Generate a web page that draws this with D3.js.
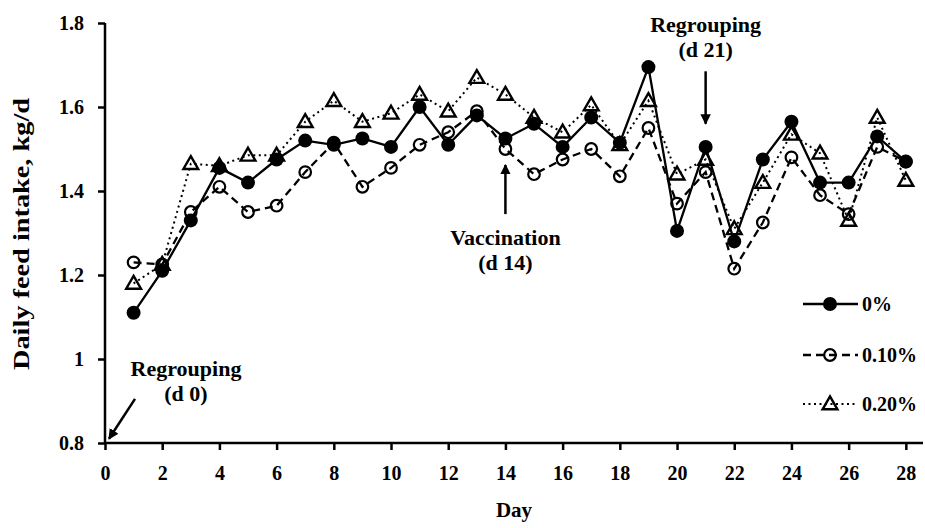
<!DOCTYPE html>
<html>
<head>
<meta charset="utf-8">
<script src="https://cdn.jsdelivr.net/npm/d3@7"></script>
<style>
  html, body { margin: 0; padding: 0; background: #fff; }
  svg { display: block; }
  text { font-family: "Liberation Serif", "Times New Roman", serif; font-weight: bold; fill: #000; }
</style>
</head>
<body>
<svg id="chart" width="925" height="528"></svg>
<script>
// ---- data ----
const days = [1,2,3,4,5,6,7,8,9,10,11,12,13,14,15,16,17,18,19,20,21,22,23,24,25,26,27,28];
const intake0 = [1.11,1.21,1.33,1.455,1.42,1.475,1.52,1.51,1.525,1.505,1.60,1.51,1.58,1.525,1.56,1.505,1.575,1.515,1.695,1.305,1.505,1.28,1.475,1.565,1.42,1.42,1.53,1.47];
const intake10 = [1.23,1.225,1.35,1.41,1.35,1.365,1.445,1.515,1.41,1.455,1.51,1.54,1.59,1.50,1.44,1.475,1.50,1.435,1.55,1.37,1.445,1.215,1.325,1.48,1.39,1.345,1.505,1.47];
const intake20 = [1.18,1.225,1.465,1.46,1.485,1.485,1.565,1.615,1.565,1.585,1.63,1.59,1.67,1.63,1.575,1.54,1.605,1.51,1.615,1.44,1.475,1.31,1.42,1.535,1.49,1.33,1.575,1.425];
const seriesNames = ["0%", "0.10%", "0.20%"];
const xTicks = [0,2,4,6,8,10,12,14,16,18,20,22,24,26,28];
const yTicks = [0.8,1.0,1.2,1.4,1.6,1.8];
const yTickLabels = ["0.8","1","1.2","1.4","1.6","1.8"];
const xTitle = "Day";
const yTitle = "Daily feed intake, kg/d";
// annotations
const annoLines1 = ["Regrouping", "Vaccination", "Regrouping"];
const annoLines2 = ["(d 0)", "(d 14)", "(d 21)"];
const annoDays = [0, 14, 21];

// ---- layout ----
const svg = d3.select("#chart");
const pL = 105, pR = 923, pT = 23, pB = 443;
const x = d3.scaleLinear().domain([0, 28.6]).range([pL, pR]);
const y = d3.scaleLinear().domain([0.8, 1.8]).range([pB, pT]);

// arrowhead
svg.append("defs").append("marker")
  .attr("id", "arr").attr("viewBox", "0 0 10 10").attr("refX", 9).attr("refY", 5)
  .attr("markerWidth", 4.2).attr("markerHeight", 4.2).attr("markerUnits", "strokeWidth")
  .attr("orient", "auto")
  .append("path").attr("d", "M0,0 L10,5 L0,10 z").attr("fill", "#000");

// axes
const yAxis = d3.axisLeft(y).tickValues(yTicks).tickFormat((d, i) => yTickLabels[i]).tickSize(7).tickPadding(14);
const gy = svg.append("g").attr("transform", `translate(${pL},0)`).call(yAxis);
const xAxis = d3.axisBottom(x).tickValues(xTicks).tickFormat(d3.format("d")).tickSize(7).tickPadding(16);
const gx = svg.append("g").attr("transform", `translate(0,${pB})`).call(xAxis);
[gx, gy].forEach(g => {
  g.select(".domain").attr("stroke", "#000").attr("stroke-width", 2.5);
  g.selectAll(".tick line").attr("stroke", "#000").attr("stroke-width", 2.5);
  g.selectAll(".tick text").attr("font-size", 20).style("font-family", "'Liberation Serif', serif").style("font-weight", "bold");
});
gx.select(".domain").attr("d", `M${pL},0H${pR}`);
gy.select(".domain").attr("d", `M0,${pB}V${pT}`);

// titles
svg.append("text").attr("x", 514).attr("y", 517).attr("text-anchor", "middle")
  .attr("font-size", 21).text(xTitle);
svg.append("text").attr("transform", `translate(29,${(pT + pB) / 2 + 1}) rotate(-90)`)
  .attr("text-anchor", "middle").attr("font-size", 23)
  .attr("textLength", 272).attr("lengthAdjust", "spacingAndGlyphs").text(yTitle);

// series
const series = [
  { name: seriesNames[0], vals: intake0, dash: null, marker: "fcircle" },
  { name: seriesNames[1], vals: intake10, dash: "8,5", marker: "ocircle" },
  { name: seriesNames[2], vals: intake20, dash: "2,3.5", marker: "tri" }
];
const line = d3.line().x((d, i) => x(days[i])).y(d => y(d));
const triPath = d3.symbol().type(d3.symbolTriangle).size(95)();

function drawMarker(g, type) {
  if (type === "fcircle") g.append("circle").attr("r", 7).attr("fill", "#000");
  else if (type === "ocircle") g.append("circle").attr("r", 5.8).attr("fill", "none").attr("stroke", "#000").attr("stroke-width", 2.2);
  else g.append("path").attr("d", triPath).attr("transform", "translate(0,1)").attr("fill", "none").attr("stroke", "#000").attr("stroke-width", 2.4).attr("stroke-linejoin", "miter");
}

series.forEach(s => {
  svg.append("path").datum(s.vals).attr("d", line)
    .attr("fill", "none").attr("stroke", "#000").attr("stroke-width", s.marker === "tri" ? 2 : 2.3)
    .attr("stroke-dasharray", s.dash);
  svg.append("g").selectAll("g").data(s.vals).join("g")
    .attr("transform", (d, i) => `translate(${x(days[i])},${y(d)})`)
    .each(function() { drawMarker(d3.select(this), s.marker); });
});

// legend
const legY = [304, 355, 404];
series.forEach((s, i) => {
  const g = svg.append("g").attr("transform", `translate(0,${legY[i]})`);
  g.append("line").attr("x1", 803).attr("x2", 858).attr("y1", 0).attr("y2", 0)
    .attr("stroke", "#000").attr("stroke-width", s.marker === "tri" ? 2 : 2.3).attr("stroke-dasharray", s.dash);
  const m = g.append("g").attr("transform", "translate(830,0)");
  drawMarker(m, s.marker);
  g.append("text").attr("x", 862).attr("y", 7).attr("font-size", 20).text(s.name);
});

// annotations
function anno(i, tx, ty, x1, y1, x2, y2) {
  svg.append("text").attr("x", tx).attr("y", ty).attr("text-anchor", "middle").attr("font-size", 22).text(annoLines1[i]);
  svg.append("text").attr("x", tx).attr("y", ty + 25).attr("text-anchor", "middle").attr("font-size", 22).text(annoLines2[i]);
  svg.append("line").attr("x1", x1).attr("y1", y1).attr("x2", x2).attr("y2", y2)
    .attr("stroke", "#000").attr("stroke-width", 2.5).attr("marker-end", "url(#arr)");
}
// d 0
anno(0, 186, 376, 135, y(0.905), x(annoDays[0]) + 4, y(0.81));
// d 14
anno(1, x(annoDays[1]), 245, x(annoDays[1]), y(1.345), x(annoDays[1]), y(1.462));
// d 21
anno(2, x(annoDays[2]), 32, x(annoDays[2]), y(1.685), x(annoDays[2]), y(1.56));
</script>
</body>
</html>
